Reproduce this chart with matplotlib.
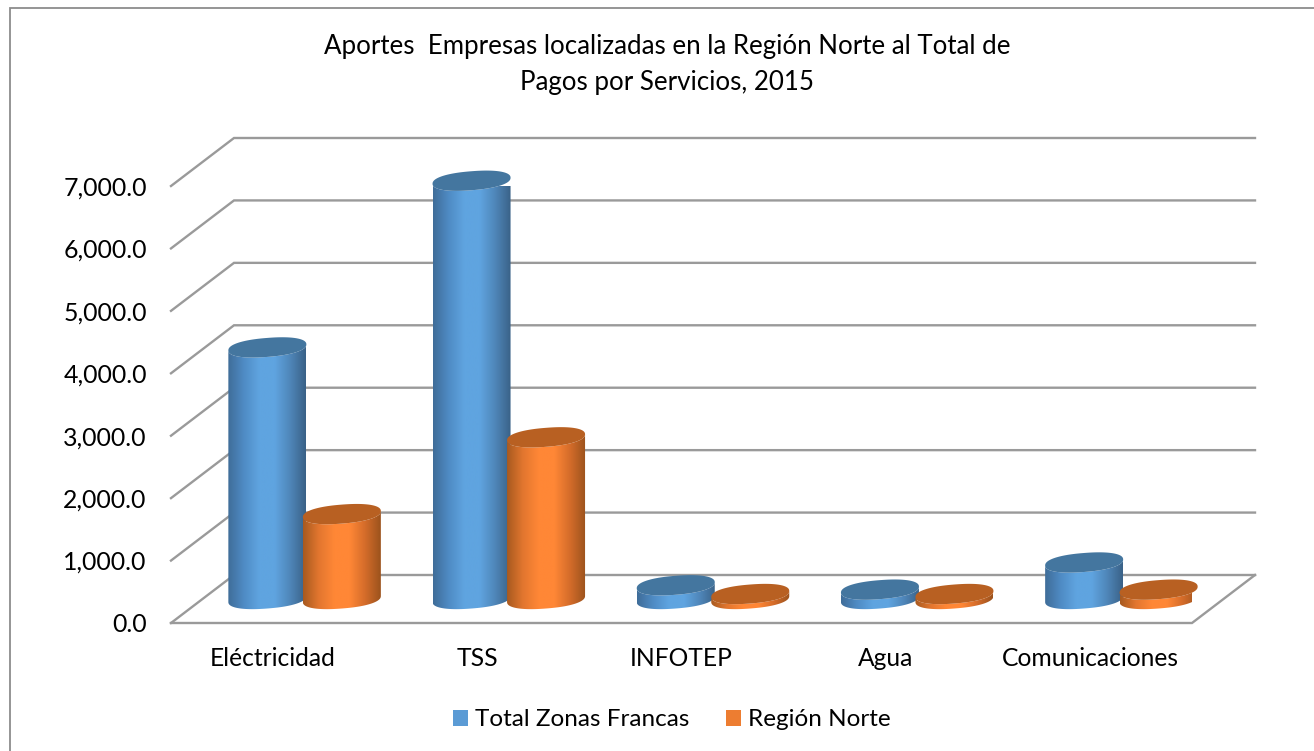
import numpy as np
import matplotlib
matplotlib.use("Agg")
import matplotlib.pyplot as plt
from matplotlib.colors import LinearSegmentedColormap
from matplotlib.patches import Patch, Polygon, Rectangle

categories = ["Eléctricidad", "TSS", "INFOTEP", "Agua", "Comunicaciones"]
total_zonas = [4030, 6700, 220, 150, 585]
region_norte = [1360, 2590, 80, 80, 150]
yticks = [0, 1000, 2000, 3000, 4000, 5000, 6000, 7000]

title = "Aportes  Empresas localizadas en la Región Norte al Total de\nPagos por Servicios, 2015"

plt.rcParams["font.family"] = ["Lato", "DejaVu Sans"]

W, H = 1314, 751
fig = plt.figure(figsize=(W / 100, H / 100), dpi=100)
fig.patch.set_facecolor("white")

# frame of the chart area, runs off the right and bottom of the picture
fig.add_artist(Rectangle((10 / W, -0.02), 1.1, 1.02 - 7.5 / H, transform=fig.transFigure,
                         fill=False, ec="#8c8c8c", lw=1.3))

ax = fig.add_axes([171 / W, 1 - 623 / H, 1021 / W, 437 / H])
ax.set_xlim(-0.5, 4.5)
ax.set_ylim(0, 7000)
for s in ax.spines.values():
    s.set_visible(False)
ax.patch.set_visible(False)

# depth of the fake 3d box, in data units
depth_x = 63 / 204.2
depth_y = 48 / 437 * 7000
grid_col = "#9a9a9a"
for v in yticks:
    xs = [-0.5, -0.5 + depth_x, 4.5 + depth_x]
    ys = [v, v + depth_y, v + depth_y]
    ax.plot(xs, ys, color=grid_col, lw=1.7, clip_on=False, zorder=1, solid_joinstyle="miter")
# floor front and right side
ax.plot([-0.5, 4.5, 4.5 + depth_x], [0, 0, depth_y], color=grid_col, lw=1.7, clip_on=False, zorder=1,
        solid_joinstyle="miter")

blue_map = LinearSegmentedColormap.from_list("b", ["#3f6d99", "#4f8bc4", "#5fa4e0", "#5fa4e0", "#4f86b9", "#3a6288"])
orange_map = LinearSegmentedColormap.from_list("o", ["#a85a20", "#e2762f", "#ff8736", "#ff8736", "#d46c2a", "#9c531d"])
blue_top = "#44769f"
orange_top = "#b86022"

half_w = 39 / 204.2
ell_b = 9.5 / 437 * 7000
shear = 3 / 437 * 7000
bar_step = 74.5 / 204.2
t = np.linspace(0, 2 * np.pi, 241)
grad = np.linspace(0, 1, 200).reshape(1, -1)


def outline(angles):
    # a bit rounder than a true ellipse, the original caps are full at the ends
    c, s = np.cos(angles), np.sin(angles)
    ux = np.sign(c) * np.abs(c) ** 0.88
    uy = np.sign(s) * np.abs(s) ** 0.88
    return half_w * ux, ell_b * uy + shear * ux


def cylinder(cx, value, cmap, top_col, z):
    base = depth_y / 2
    top = base + value
    ex, ey = outline(np.linspace(np.pi, 2 * np.pi, 90))
    body = np.column_stack([
        np.r_[cx + ex, cx + ex[::-1]],
        np.r_[base + ey, top + ey[::-1]],
    ])
    im = ax.imshow(grad, cmap=cmap, aspect="auto", zorder=z, interpolation="bilinear",
                   extent=[cx - half_w, cx + half_w, base - 2 * ell_b, top + 2 * ell_b])
    clip = Polygon(body, closed=True, transform=ax.transData)
    im.set_clip_path(clip)
    px, py = outline(t)
    cap = np.column_stack([cx + px, top + py])
    ax.add_patch(Polygon(cap, closed=True, fc=top_col, ec="none", zorder=z + 0.1, clip_on=False))


for i in range(len(categories)):
    mid = i + depth_x / 2
    cylinder(mid - bar_step / 2, total_zonas[i], blue_map, blue_top, 2 + i * 2)
    cylinder(mid + bar_step / 2, region_norte[i], orange_map, orange_top, 3 + i * 2)

ax.set_xlim(-0.5, 4.5)
ax.set_ylim(0, 7000)

ax.set_xticks(range(len(categories)))
ax.set_xticklabels(categories, fontsize=17.7)
ax.set_yticks(yticks)
ax.set_yticklabels([f"{v:,.1f}" for v in yticks], fontsize=17.9)
ax.tick_params(axis="both", length=0, colors="black")
ax.tick_params(axis="x", pad=17.5)
ax.tick_params(axis="y", pad=17.5)

fig.text(667 / W, 1 - 64.5 / H, title, ha="center", va="center", fontsize=18.6, linespacing=1.58)

handles = [Patch(fc="#5b9bd5", ec="none"), Patch(fc="#ed7d31", ec="none")]
fig.legend(handles, ["Total Zonas Francas", "Región Norte"], loc="center",
           bbox_to_anchor=(672 / W, 1 - 720 / H), ncol=2, frameon=False, fontsize=17.5,
           handlelength=0.62, handleheight=0.62, handletextpad=0.3, columnspacing=1.5)

fig.savefig("out.png", dpi=100)
